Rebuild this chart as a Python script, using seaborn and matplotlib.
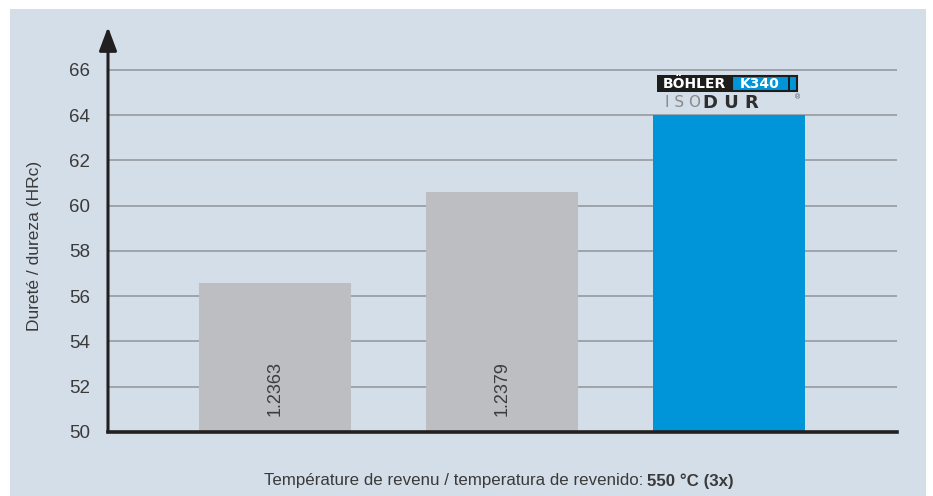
"""
Hardness after tempering at 550 °C (3x): 1.2363 vs 1.2379 vs BÖHLER K340 ISODUR.
"""

import matplotlib.pyplot as plt
import matplotlib.patches as mpatches
import pandas as pd
import seaborn as sns

# Data
grades = ["1.2363", "1.2379", "K340"]
hardness = [56.6, 60.6, 64.0]
bar_colors = ["#bdbec2", "#bdbec2", "#0095d9"]
y_ticks = [50, 52, 54, 56, 58, 60, 62, 64, 66]

PANEL = "#d4dee8"
TEXT = "#3a3a3a"

sns.set_theme(style="white")
plt.rcParams["font.family"] = ["Liberation Sans Narrow", "Liberation Sans", "DejaVu Sans"]

W, H = 933, 496
fig = plt.figure(figsize=(W / 100, H / 100), dpi=100, facecolor="white")

# light panel behind everything
fig.patches.append(mpatches.Rectangle((10 / W, 0), 916 / W, 1 - 9 / H,
                                      transform=fig.transFigure,
                                      facecolor=PANEL, edgecolor="none", zorder=-5))

ax = fig.add_axes([108 / W, 1 - 432 / H, (897 - 108) / W, (432 - 27) / H])
ax.set_facecolor("none")
ax.set_zorder(2)

df = pd.DataFrame({"grade": grades, "hrc": hardness})
sns.barplot(data=df, x="grade", y="hrc", hue="grade", palette=bar_colors,
            legend=False, width=0.67, saturation=1, linewidth=0, ax=ax, zorder=3)

ax.set_xlim(-0.736, 2.74)
ax.set_ylim(50, 67.9)

# gridlines only up to 66
for t in y_ticks[1:]:
    ax.axhline(t, color="#9ea4aa", lw=1.4, zorder=1)

ax.set_yticks(y_ticks)
ax.set_yticklabels([str(t) for t in y_ticks], fontsize=13.5, color=TEXT)
ax.tick_params(axis="y", length=0, pad=13)
ax.set_xticks([])
ax.set_xlabel("")
ax.set_ylabel("")

for side in ["top", "right", "left"]:
    ax.spines[side].set_visible(False)
ax.spines["bottom"].set_color("#231f20")
ax.spines["bottom"].set_linewidth(2.6)
ax.spines["bottom"].set_zorder(5)

# y axis with arrow head
ax.annotate("", xy=(0, 1), xytext=(0, 0), xycoords="axes fraction",
            arrowprops=dict(arrowstyle="-|>,head_length=1.2,head_width=0.45",
                            color="#231f20", lw=2.2, shrinkA=0, shrinkB=0),
            zorder=6, annotation_clip=False)

# grade labels inside the grey bars
for i, name in enumerate(grades[:2]):
    ax.text(i, 50.7, name, rotation=90, ha="center", va="bottom",
            fontsize=13, color="#3c3c3c", zorder=4)

fig.text(35 / W, 1 - 246 / H, "Dureté / dureza (HRc)", rotation=90,
         ha="center", va="center", fontsize=12.5, color=TEXT)

# BÖHLER K340 ISODUR logo above the blue bar
fig.patches.append(mpatches.Rectangle((657 / W, 1 - 92 / H), 75 / W, 17 / H,
                                      transform=fig.transFigure,
                                      facecolor="#1d1d1b", edgecolor="none", zorder=5))
fig.patches.append(mpatches.Rectangle((732 / W, 1 - 91 / H), 65 / W, 15 / H,
                                      transform=fig.transFigure,
                                      facecolor="#0095d9", edgecolor="#1d1d1b",
                                      lw=1.5, zorder=5))
fig.patches.append(mpatches.Rectangle((788 / W, 1 - 91 / H), 1.5 / W, 15 / H,
                                      transform=fig.transFigure,
                                      facecolor="#1d1d1b", edgecolor="none", zorder=6))
fig.text(694 / W, 1 - 84.5 / H, "BÖHLER", ha="center", va="center",
         fontsize=10, fontweight="bold", color="white", zorder=7,
         family=["DejaVu Sans"])
fig.text(760 / W, 1 - 84.5 / H, "K340", ha="center", va="center",
         fontsize=10, fontweight="bold", color="white", zorder=7,
         family=["DejaVu Sans"])
fig.text(665 / W, 1 - 102.5 / H, "I S O", ha="left", va="center",
         fontsize=11, color="#8a8a8a", zorder=7, family=["DejaVu Sans"])
fig.text(703 / W, 1 - 102.5 / H, "D U R", ha="left", va="center",
         fontsize=13, fontweight="bold", color="#2e2e2e", zorder=7,
         family=["DejaVu Sans"])
fig.text(795 / W, 1 - 98 / H, "®", ha="left", va="center",
         fontsize=5, color="#4a4a4a", zorder=7)

# x axis caption, normal + bold part
fig.text(643 / W, 1 - 481 / H, "Température de revenu / temperatura de revenido:",
         ha="right", va="center", fontsize=12.2, color=TEXT)
fig.text(647 / W, 1 - 481 / H, "550 °C (3x)",
         ha="left", va="center", fontsize=12.2, fontweight="bold", color=TEXT)

fig.savefig("out.png", dpi=100, facecolor="white")
